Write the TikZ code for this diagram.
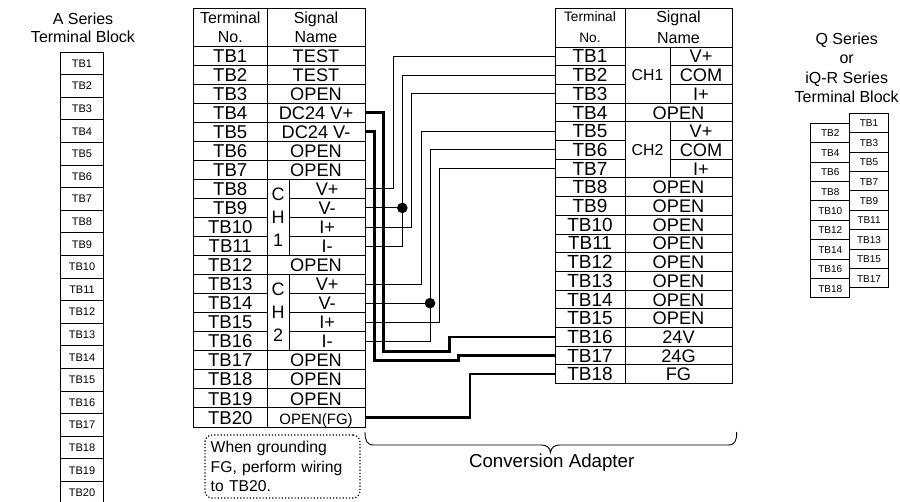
\documentclass[tikz,border=0pt]{standalone}
\usepackage{fontspec}
\setmainfont{Liberation Sans}
\newcommand{\fs}[1]{\fontsize{#1}{#1}\selectfont}
\tikzset{
  cell/.style={draw=black,line width=0.9pt,rectangle,inner sep=0pt,outer sep=0pt,text height=13.2pt,text depth=0pt,font=\fs{18.2}},
  headcell/.style={draw=black,line width=0.9pt,rectangle,inner sep=0pt,outer sep=0pt,align=center},
  tinycell/.style={draw=black,line width=0.9pt,rectangle,inner sep=0pt,outer sep=0pt,text height=8pt,text depth=0pt},
  wire/.style={line width=0.9pt,draw=black,line join=miter},
  power/.style={line width=2.5pt,draw=black,line join=miter},
  title/.style={align=center,font=\fontsize{16}{19.3}\selectfont,inner sep=0pt},
}
\begin{document}
\begin{tikzpicture}[x=1pt,y=-1pt]
\useasboundingbox (0,0) rectangle (900,502);
\clip (0,0) rectangle (900,502);
% A series
\node[title,anchor=base] (atitle) at (83,25) {A Series};
\node[title,anchor=base] (atitle2) at (83,43) {Terminal Block};
\foreach \i in {1,...,20}{
  \node[tinycell,minimum width=43pt,minimum height=22.6pt,font=\fs{11}] (A\i) at (82,{52+22.6*(\i-.5)}) {TB\i};
}
% Q series
\node[title,anchor=base] (q1) at (846.7,45) {Q Series};
\node[title,anchor=base] (q2) at (846.7,64) {or};
\node[title,anchor=base] (q3) at (846.7,83.3) {iQ-R Series};
\node[title,anchor=base] (q4) at (846.7,103) {Terminal Block};
\foreach \i/\n in {0/1,1/3,2/5,3/7,4/9,5/11,6/13,7/15,8/17}{
  \node[tinycell,minimum width=38.6pt,minimum height=19.4pt,font=\fs{10}] (Q\n) at (869,{113.3+19.4*(\i+.5)}) {TB\n};
}
\foreach \i/\n in {0/2,1/4,2/6,3/8,4/10,5/12,6/14,7/16,8/18}{
  \node[tinycell,minimum width=39pt,minimum height=19.4pt,font=\fs{10}] (Q\n) at (830.2,{123.3+19.4*(\i+.5)}) {TB\n};
}
% Left table header
\node[headcell,minimum width=73.5pt,minimum height=38pt,font=\fontsize{16}{19.3}\selectfont] (LH1) at (230.25,27) {Terminal\\No.};
\node[headcell,minimum width=98pt,minimum height=38pt,font=\fontsize{16}{19.3}\selectfont] (LH2) at (316,27) {Signal\\Name};
% Left table rows
\foreach \i in {1,...,20}{
  \node[cell,minimum width=73.5pt,minimum height=19.05pt,font=\fs{18.6}] (L\i) at (230.25,{46+19.05*(\i-.5)}) {TB\i};
}
\foreach \i/\t in {1/TEST,2/TEST,3/OPEN,4/DC24 V+,5/DC24 V-,6/OPEN,7/OPEN,12/OPEN,17/OPEN,18/OPEN,19/OPEN}{
  \node[cell,minimum width=98pt,minimum height=19.05pt] (S\i) at (316,{46+19.05*(\i-.5)}) {\t};
}
\node[cell,minimum width=98pt,minimum height=19.05pt,font=\fs{15}] (S20) at (316,{46+19.05*19.5}) {OPEN(FG)};
\foreach \i/\t in {8/V+,9/V-,10/I+,11/I-,13/V+,14/V-,15/I+,16/I-}{
  \node[cell,minimum width=75.7pt,minimum height=19.05pt] (S\i) at (327.15,{46+19.05*(\i-.5)}) {\t};
}
\node[headcell,minimum width=22.3pt,minimum height=76.2pt,font=\fontsize{18}{23}\selectfont] (CA) at (278.15,217.45) {C\\H\\1};
\node[headcell,minimum width=22.3pt,minimum height=76.2pt,font=\fontsize{18}{23}\selectfont] (CB) at (278.15,312.7) {C\\H\\2};
% Right table header
\node[headcell,minimum width=70pt,minimum height=39pt,font=\fontsize{13.7}{21}\selectfont] (RH1) at (590,27.5) {Terminal\\No.};
\node[headcell,minimum width=107pt,minimum height=39pt,font=\fontsize{16}{21}\selectfont] (RH2) at (678.5,27.5) {Signal\\Name};
\foreach \i in {1,...,18}{
  \node[cell,minimum width=70pt,minimum height=18.7pt,font=\fs{19}] (R\i) at (590,{47+18.7*(\i-.5)}) {TB\i};
}
\foreach \i/\t in {4/OPEN,8/OPEN,9/OPEN,10/OPEN,11/OPEN,12/OPEN,13/OPEN,14/OPEN,15/OPEN,16/24V,17/24G,18/FG}{
  \node[cell,minimum width=107pt,minimum height=18.7pt] (T\i) at (678.5,{47+18.7*(\i-.5)}) {\t};
}
\foreach \i/\t in {1/V+,2/COM,3/I+,5/V+,6/COM,7/I+}{
  \node[cell,minimum width=62pt,minimum height=18.7pt] (T\i) at (701,{47+18.7*(\i-.5)}) {\t};
}
\node[headcell,minimum width=45pt,minimum height=56.1pt,font=\fs{15.8}] (CH1) at (647.5,{47+18.7*1.5}) {CH1};
\node[headcell,minimum width=45pt,minimum height=56.1pt,font=\fs{15.8}] (CH2) at (647.5,{47+18.7*5.5}) {CH2};
% Thin wires
\coordinate (J1) at (402.3,0 |- S9.east);
\coordinate (J2) at (430,0 |- S14.east);
\draw[wire] (S8.east) -| (393.3,0 |- R1.west) -- (R1.west);
\draw[wire] (S9.east) -- (J1) |- (R2.west);
\draw[wire] (S11.east) -| (J1);
\draw[wire] (S10.east) -| (411.7,0 |- R3.west) -- (R3.west);
\draw[wire] (S13.east) -| (421,0 |- R5.west) -- (R5.west);
\draw[wire] (S14.east) -- (J2) |- (R6.west);
\draw[wire] (S16.east) -| (J2);
\draw[wire] (S15.east) -| (439.3,0 |- R7.west) -- (R7.west);
\fill (J1) circle[radius=5.3pt];
\fill (J2) circle[radius=5.3pt];
% Power wires
\draw[power] (S4.east) -| (383.5,351.7) -| (449.3,0 |- R16.west) -- (R16.west);
\draw[power] (S5.east) -| (374.3,360.7) -| (458.7,0 |- R17.west) -- (R17.west);
\draw[power] (S20.east) -| (470,0 |- R18.west) -- (R18.west);
% Note
\node[draw=black,dotted,line width=1.2pt,rounded corners=7pt,minimum width=155pt,minimum height=63pt,inner sep=0pt,text width=143.6pt,align=left,font=\fontsize{15.7}{19.5}\selectfont] (note) at (282.5,466.5) {When grounding\\FG, perform wiring\\to TB20.};
% Brace
\coordinate (bl) at (365,432);
\coordinate (br) at (736.7,432);
\coordinate (bt) at (550.5,452.7);
\draw[line width=0.9pt] (bl) .. controls (365,441) and (367,445) .. (374,445) -- (541,445) .. controls (546,445) and (550,447) .. (bt) .. controls (551,447) and (555,445) .. (560,445) -- (728,445) .. controls (735,445) and (736.7,441) .. (br);
\node[anchor=base,font=\fs{18.7},inner sep=0pt] (adapter) at (551.7,467.7) {Conversion Adapter};
\end{tikzpicture}
\end{document}
